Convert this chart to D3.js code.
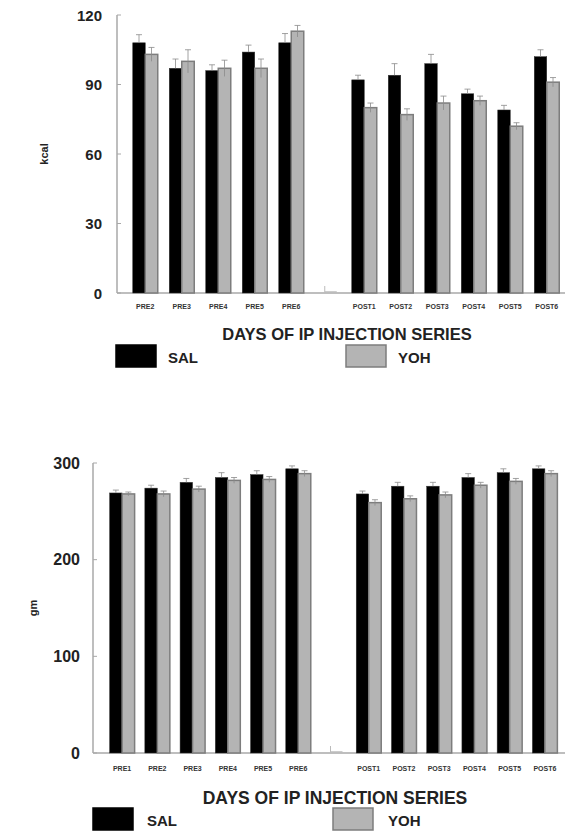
<!DOCTYPE html>
<html>
<head>
<meta charset="utf-8">
<script src="https://cdn.jsdelivr.net/npm/d3@7"></script>
<style>
  body { margin: 0; background: #fff; }
  svg { display: block; font-family: "Liberation Sans", Arial, sans-serif; }
</style>
</head>
<body>
<svg id="chart" width="568" height="835"></svg>
<script>
// top panel: energy intake (kcal)
const topCats = ['PRE2','PRE3','PRE4','PRE5','PRE6','','POST1','POST2','POST3','POST4','POST5','POST6'];
const topSal = [108, 97, 96, 104, 108, null, 92, 94, 99, 86, 79, 102];
const topYoh = [103, 100, 97, 97, 113, null, 80, 77, 82, 83, 72, 91];
const topSalErr = [3.5, 4, 2.5, 3, 4, null, 2, 5, 4, 2, 2, 3];
const topYohErr = [3, 5, 3.5, 4, 2.5, null, 2, 2.5, 3, 2, 1.5, 2];
const topTicks = [0, 30, 60, 90, 120];

// bottom panel: body weight (gm)
const botCats = ['PRE1','PRE2','PRE3','PRE4','PRE5','PRE6','','POST1','POST2','POST3','POST4','POST5','POST6'];
const botSal = [269, 274, 280, 285, 288, 294, null, 268, 276, 276, 285, 290, 294];
const botYoh = [268, 268, 273, 282, 283, 289, null, 259, 263, 267, 277, 281, 289];
const botSalErr = [3, 3, 4, 5, 4, 3, null, 3, 4, 4, 4, 4, 3];
const botYohErr = [2, 3, 3, 3, 3, 3, null, 3, 3, 3, 3, 3, 3];
const botTicks = [0, 100, 200, 300];

const seriesNames = ['SAL', 'YOH'];
const colors = { SAL: '#000', YOH: '#b4b4b4' };
const axisCol = '#a8a8a8';

const svg = d3.select('#chart');

function panel(o) {
  const g = svg.append('g');
  const x0 = d3.scaleBand().domain(o.cats).range(o.xr).padding(0);
  const x1 = d3.scaleBand().domain(seriesNames)
    .range([(x0.bandwidth() - 25) / 2, (x0.bandwidth() + 25) / 2]);
  const y = d3.scaleLinear().domain([0, o.max]).range(o.yr);

  // axes
  g.append('line').attr('x1', o.axisX).attr('x2', o.axisX)
    .attr('y1', y(0)).attr('y2', y(o.max)).attr('stroke', axisCol).attr('stroke-width', 1.5);
  g.append('line').attr('x1', o.axisX).attr('x2', 565)
    .attr('y1', y(0)).attr('y2', y(0)).attr('stroke', axisCol).attr('stroke-width', 1.5);
  o.ticks.forEach(t => {
    g.append('line').attr('x1', o.axisX).attr('x2', o.axisX + 4)
      .attr('y1', y(t)).attr('y2', y(t)).attr('stroke', axisCol);
    g.append('text').attr('x', o.axisX - o.tickGap).attr('y', y(t) + 5.5)
      .attr('text-anchor', 'end').attr('font-size', o.tickSize).attr('font-weight', 'bold')
      .attr('fill', '#222').text(t);
  });
  g.append('text')
    .attr('transform', `translate(${o.ylabX},${(y(0) + y(o.max)) / 2}) rotate(-90)`)
    .attr('text-anchor', 'middle').attr('font-size', 11).attr('font-weight', 'bold')
    .attr('fill', '#222').text(o.ylab);

  // bars
  const rows = o.cats.map((c, i) => ({ cat: c, SAL: o.sal[i], YOH: o.yoh[i], eSAL: o.salErr[i], eYOH: o.yohErr[i] }));
  rows.forEach(r => {
    const gx = x0(r.cat);
    if (r.SAL == null) {
      // small stray mark in the gap slot
      const cx = gx + x0.bandwidth() / 2 - 3;
      g.append('line').attr('x1', cx).attr('x2', cx).attr('y1', y(0) - 7).attr('y2', y(0))
        .attr('stroke', '#bbb');
      g.append('line').attr('x1', cx).attr('x2', cx + 12).attr('y1', y(0) - 1).attr('y2', y(0) - 1)
        .attr('stroke', '#bbb').attr('stroke-width', 1.5);
      return;
    }
    seriesNames.forEach(s => {
      const bx = gx + x1(s), bw = x1.bandwidth();
      const v = r[s], e = r['e' + s];
      g.append('rect').attr('x', bx).attr('y', y(v)).attr('width', bw).attr('height', y(0) - y(v))
        .attr('fill', colors[s])
        .attr('stroke', s === 'YOH' ? '#7d7d7d' : '#333').attr('stroke-width', s === 'YOH' ? 1.5 : 0.5);
      const cx = bx + bw / 2;
      const lo = s === 'YOH' ? y(v - e) : y(v);
      g.append('line').attr('x1', cx).attr('x2', cx).attr('y1', lo).attr('y2', y(v + e))
        .attr('stroke', '#8a8a8a').attr('stroke-width', 0.8);
      g.append('line').attr('x1', cx - 3).attr('x2', cx + 3).attr('y1', y(v + e)).attr('y2', y(v + e))
        .attr('stroke', '#8a8a8a').attr('stroke-width', 0.8);
    });
  });

  // category labels
  o.cats.forEach(c => {
    if (!c) return;
    g.append('text').attr('x', x0(c) + x0.bandwidth() / 2).attr('y', o.catY)
      .attr('text-anchor', 'middle').attr('font-size', 7).attr('font-weight', 'bold')
      .attr('fill', '#333').text(c);
  });

  // axis title
  g.append('text').attr('x', o.titleX).attr('y', o.titleY).attr('text-anchor', 'middle')
    .attr('font-size', o.titleSize).attr('font-weight', 'bold').attr('fill', '#222')
    .text('DAYS OF IP INJECTION SERIES');

  // legend
  o.leg.forEach((l, i) => {
    const s = seriesNames[i];
    g.append('rect').attr('x', l[0]).attr('y', o.legY).attr('width', 40).attr('height', 22)
      .attr('fill', colors[s]).attr('stroke', s === 'YOH' ? '#7d7d7d' : '#000').attr('stroke-width', 1.5);
    g.append('text').attr('x', l[1]).attr('y', o.legY + 18).attr('font-size', 15)
      .attr('font-weight', 'bold').attr('fill', '#222').text(s);
  });
}

panel({
  cats: topCats, sal: topSal, yoh: topYoh, salErr: topSalErr, yohErr: topYohErr,
  ticks: topTicks, max: 120, xr: [127, 565], yr: [293, 15], axisX: 117,
  tickGap: 15, tickSize: 15,
  ylab: 'kcal', ylabX: 48, catY: 309, titleX: 347, titleY: 340, titleSize: 16.5,
  legY: 345, leg: [[116, 168], [346, 398]]
});

panel({
  cats: botCats, sal: botSal, yoh: botYoh, salErr: botSalErr, yohErr: botYohErr,
  ticks: botTicks, max: 300, xr: [104.5, 562.5], yr: [753, 463], axisX: 93,
  tickGap: 13, tickSize: 16,
  ylab: 'gm', ylabX: 37, catY: 771, titleX: 335, titleY: 804, titleSize: 17.5,
  legY: 808, leg: [[93, 147], [333, 388]]
});
</script>
</body>
</html>
